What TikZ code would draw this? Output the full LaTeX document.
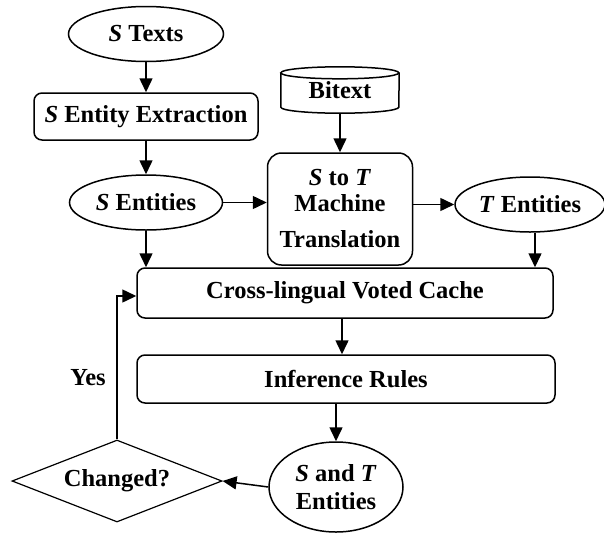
\documentclass[tikz,border=0pt]{standalone}
\usepackage{fontspec}
\setmainfont{Liberation Serif}
\usetikzlibrary{shapes.geometric,arrows.meta,calc}
\begin{document}
\begin{tikzpicture}[x=1pt,y=-1pt,
  every node/.style={font=\fontsize{24.5}{28}\selectfont\bfseries, inner sep=0pt},
  ell/.style={draw, ellipse, line width=1.5pt},
  rbox/.style={draw, rectangle, rounded corners=8pt, line width=1.5pt},
  dia/.style={draw, diamond, line width=1.2pt},
  arr/.style={line width=1.5pt, -{Triangle[length=14pt,width=13pt]}},
  ln/.style={line width=1.5pt}
]
\useasboundingbox (0,0) rectangle (604,533);
\node[ell, minimum width=155pt, minimum height=55pt] (stexts) at (146,34) {\textit{S} Texts};
\node[rbox, minimum width=224pt, minimum height=47pt] (see) at (146,116.5) {\textit{S} Entity Extraction};
\node[ell, minimum width=153pt, minimum height=55pt] (sent) at (146,202.5) {\textit{S} Entities};
% Bitext cylinder
\node[minimum width=118pt, minimum height=46pt] (bitext) at (340,90) {\raisebox{-4pt}{Bitext}};
\draw[ln] (bitext.north west) ++(0,6) arc[start angle=180, end angle=360, x radius=59pt, y radius=-6pt]
      arc[start angle=0, end angle=180, x radius=59pt, y radius=-6pt] -- cycle;
\draw[ln] ([yshift=-6pt]bitext.north west) -- ([yshift=6pt]bitext.south west)
      arc[start angle=180, end angle=360, x radius=59pt, y radius=6pt]
      -- ([yshift=-6pt]bitext.north east);
\node[rbox, rounded corners=14pt, minimum width=145pt, minimum height=112pt, align=center] (mt) at (340,209)
  {\textit{S} to \textit{T}\\[-2pt] Machine\\[8pt] Translation};
\node[ell, minimum width=150pt, minimum height=55pt] (tent) at (530,204.5) {\textit{T} Entities};
\node[rbox, minimum width=416pt, minimum height=50pt] (cvc) at (345,293) {Cross-lingual Voted Cache};
\node[rbox, minimum width=418pt, minimum height=48pt] (inf) at (346,379) {Inference Rules};
\node[ell, minimum width=134pt, minimum height=90pt, align=center] (st) at (336,487) {\textit{S} and \textit{T}\\ Entities};
\node[dia, minimum width=210pt, minimum height=82pt, aspect=2.56] (chg) at (117,481) {Changed?};
\node (yes) at (88,378) {Yes};
% connectors
\draw[arr] (stexts.south) -- (see.north);
\draw[arr] (see.south) -- (sent.north);
\draw[arr] (sent.east) -- (mt.west |- sent.east);
\draw[arr] (bitext.south) -- (mt.north);
\draw[arr] (mt.east |- tent.west) -- (tent.west);
\draw[arr] (sent.south) -- (sent.south |- cvc.north);
\draw[arr] ([xshift=5pt]tent.south) -- ([xshift=5pt]tent.south |- cvc.north);
\draw[arr] ([xshift=-3pt]cvc.south) -- ([xshift=-4pt]inf.north);
\draw[arr] (st.north |- inf.south) -- (st.north);
\draw[arr] (st.west) -- (chg.east);
\draw[arr] (chg.north) |- ([yshift=-3pt]cvc.west);
\end{tikzpicture}
\end{document}
